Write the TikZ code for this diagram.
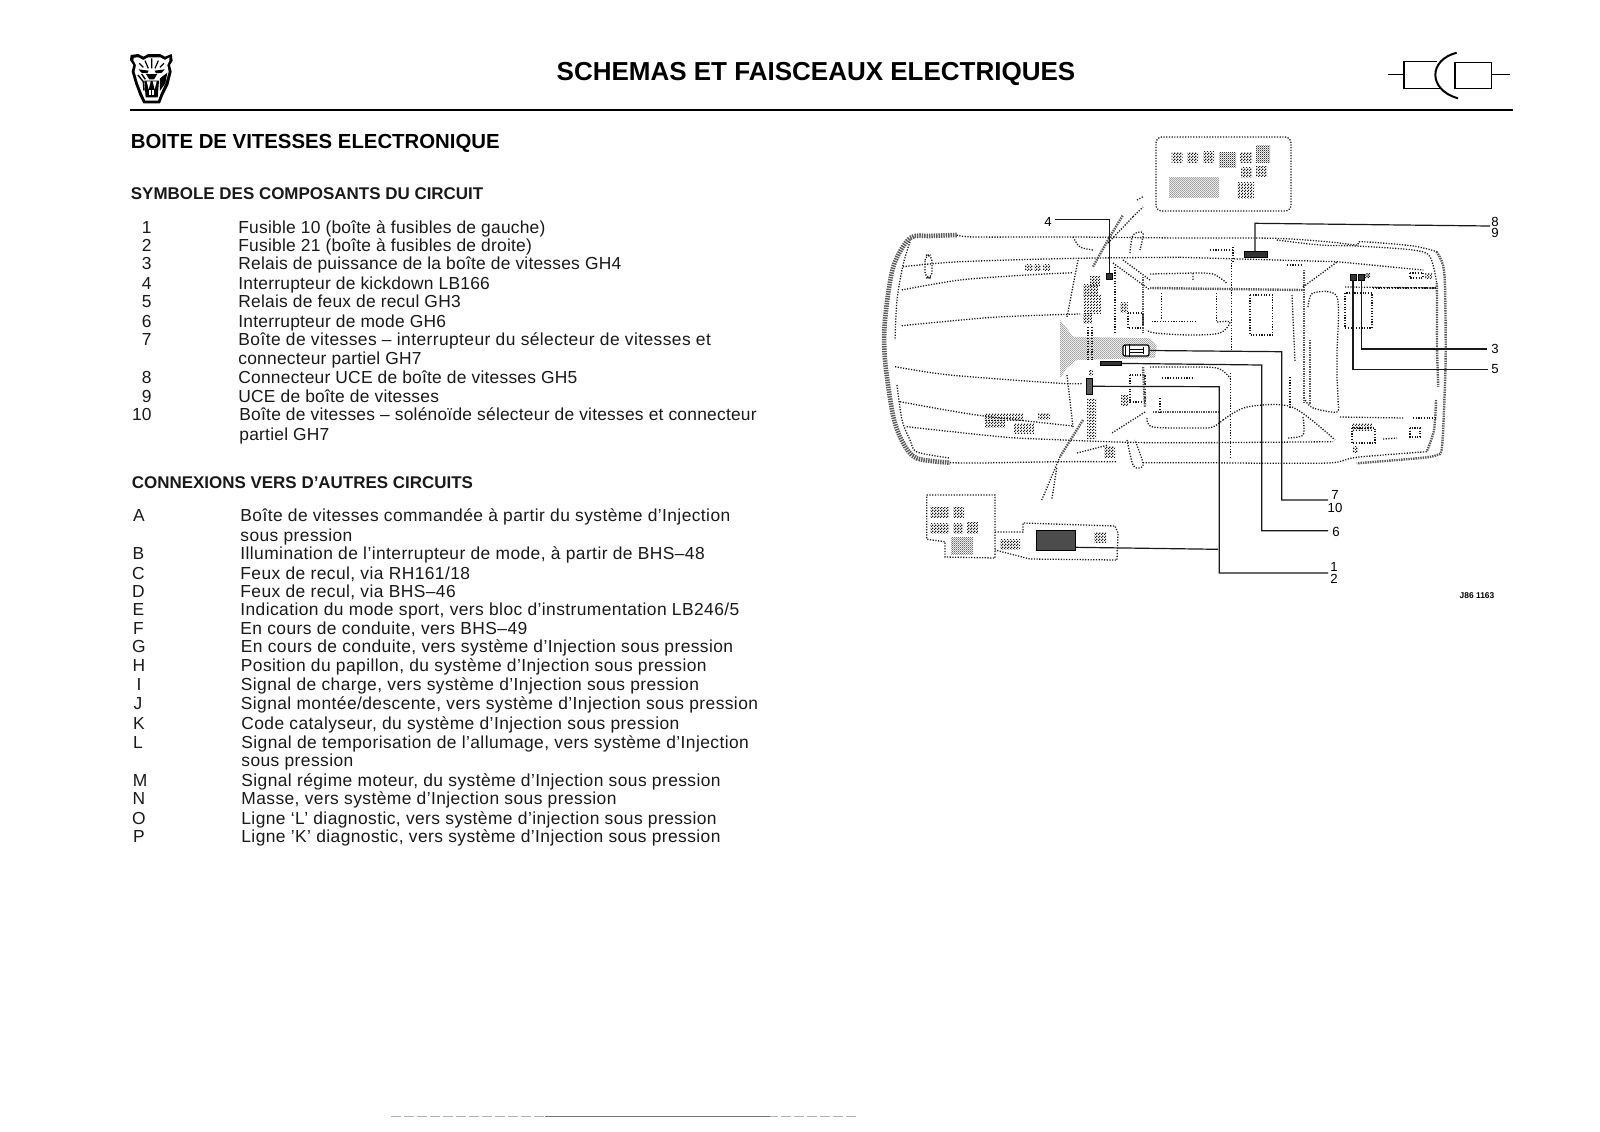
\documentclass[tikz,border=0pt]{standalone}
\usepackage{fontspec}
\setmainfont{Liberation Sans}
\usetikzlibrary{patterns}
\pgfdeclarepatternformonly{stip}{\pgfpointorigin}{\pgfqpoint{1.3pt}{1.3pt}}{\pgfqpoint{1.3pt}{1.3pt}}{%
  \pgfpathrectangle{\pgfqpoint{0pt}{0pt}}{\pgfqpoint{.62pt}{.62pt}}%
  \pgfpathrectangle{\pgfqpoint{.65pt}{.65pt}}{\pgfqpoint{.62pt}{.62pt}}%
  \pgfusepath{fill}}
\pgfdeclarepatternformonly{stiplight}{\pgfpointorigin}{\pgfqpoint{.9pt}{.9pt}}{\pgfqpoint{.9pt}{.9pt}}{%
  \pgfpathrectangle{\pgfqpoint{0pt}{0pt}}{\pgfqpoint{.4pt}{.4pt}}%
  \pgfpathrectangle{\pgfqpoint{.45pt}{.45pt}}{\pgfqpoint{.4pt}{.4pt}}%
  \pgfusepath{fill}}
\begin{document}
\begin{tikzpicture}[x=0.5pt,y=-0.5pt,
  bodyfont/.style={font=\fontsize{8.7}{10}\selectfont\addfontfeature{LetterSpace=1.3}},
  bodyfontb/.style={font=\fontsize{8.7}{10}\selectfont\addfontfeature{LetterSpace=2.4}},
  bodytxt/.style={inner sep=0pt,anchor=base west,yshift=-.3pt,bodyfont,text=black!90},
  bodytxtb/.style={inner sep=0pt,anchor=base west,yshift=-.3pt,bodyfontb,text=black!90},
  numtxt/.style={inner sep=0pt,anchor=base east,yshift=-.3pt,bodyfont,text=black!90},
  lettxt/.style={inner sep=0pt,anchor=base,yshift=-.3pt,bodyfont,text=black!90},
  headtxt/.style={inner sep=0pt,anchor=base west,font=\fontsize{8.48}{10}\bfseries\selectfont,text=black!90},
  calltxt/.style={inner sep=0pt,anchor=center,font=\fontsize{6.6}{7}\selectfont},
  fine/.style={draw=black!90,line width=.65pt,dash pattern=on .6pt off .75pt},
  dense/.style={draw=black!65,line width=2.3pt,dash pattern=on .7pt off .5pt},
  denser/.style={draw=black!65,line width=1.2pt,dash pattern=on .7pt off .5pt},
  mesh/.style={pattern=stip,pattern color=black!90,draw=none},
  light/.style={pattern=stiplight,pattern color=black!80,draw=none},
  callout/.style={draw=black!90,line width=.6pt},
  comp/.style={fill=black!80,draw=black,line width=.3pt,inner sep=0pt,minimum width=3pt,minimum height=3pt},
]
\useasboundingbox (0,0) rectangle (1600,1131);
\fill[white] (0,0) rectangle (1600,1131);

% ---------- header ----------
\begin{scope}[shift={(110,40)},x=1/6 pt,y=-1/6 pt]
  \fill (62,45)--(85,42)--(100,50)--(115,42)--(150,42)--(165,50)--(185,42)--(188,62)--(180,75)--(185,95)--(175,135)--(160,165)--(150,190)--(100,190)--(88,165)--(75,130)--(65,95)--(70,75)--(60,60)--cycle;
  \fill[white] (72,53)--(85,52)--(100,60)--(115,52)--(150,52)--(165,60)--(178,52)--(178,62)--(172,75)--(176,95)--(166,130)--(152,160)--(144,182)--(106,182)--(96,160)--(84,130)--(74,95)--(78,75)--(70,60)--cycle;
  \draw[line width=.6pt] (125,55)--(125,85) (105,62)--(115,85) (145,62)--(135,85) (88,70)--(100,82) (162,70)--(150,82);
  \fill (86,88)--(116,92)--(112,100)--(94,98)--cycle;
  \fill (164,88)--(134,92)--(138,100)--(156,98)--cycle;
  \fill (108,102)--(142,102)--(132,118)--(118,118)--cycle;
  \draw[line width=.7pt] (84,105)--(100,125)--(102,152) (95,102)--(106,118);
  \fill (150,115)--(172,98)--(166,130)--(150,152)--cycle;
  \fill (103,122)--(147,122)--(143,172)--(107,172)--cycle;
  \fill[white] (110,124)--(116,148)--(122,124)--cycle;
  \fill[white] (128,124)--(134,148)--(140,124)--cycle;
  \fill[white] (118,150)--(132,150)--(132,166)--(118,166)--cycle;
  \draw[line width=.5pt] (125,150)--(125,166);
\end{scope}
\node[inner sep=0pt,anchor=base,font=\fontsize{13}{16}\bfseries\selectfont] (title) at (816,80) {SCHEMAS ET FAISCEAUX ELECTRIQUES};
\draw[line width=1pt] (130,110) -- (1513,110);
\draw[line width=.7pt] (1388,74.3)--(1404,74.3);
\draw[line width=.7pt] (1437,61.7)--(1404,61.7)--(1404,88.3)--(1441,88.3);
\draw[line width=1pt] (1456.7,52.7) .. controls (1428,60) and (1428,90) .. (1458,98.3);
\draw[line width=.7pt] (1455,62.7) rectangle (1491.7,88.3);
\draw[line width=.7pt] (1491.7,74.3)--(1510,74.3);

% ---------- text ----------
\node[inner sep=0pt,anchor=base west,font=\fontsize{10.18}{12}\bfseries\selectfont] (h1) at (130.5,148.5) {BOITE DE VITESSES ELECTRONIQUE};
\node[headtxt] (h2) at (130.5,199) {SYMBOLE DES COMPOSANTS DU CIRCUIT};
\node[numtxt] (n1) at (152,232.5) {1};
\node[numtxt] (n2) at (152,250.9) {2};
\node[numtxt] (n3) at (152,269.3) {3};
\node[numtxt] (n4) at (152,288.7) {4};
\node[numtxt] (n5) at (152,307) {5};
\node[numtxt] (n6) at (152,326.4) {6};
\node[numtxt] (n7) at (152,344.8) {7};
\node[numtxt] (n8) at (152,382.5) {8};
\node[numtxt] (n9) at (152,401.9) {9};
\node[numtxt] (n10) at (152,420.3) {10};
\node[bodytxt] (t1) at (238,232.5) {Fusible 10 (boîte à fusibles de gauche)};
\node[bodytxt] (t2) at (238,250.9) {Fusible 21 (boîte à fusibles de droite)};
\node[bodytxt] (t3) at (238,269.3) {Relais de puissance de la boîte de vitesses GH4};
\node[bodytxt] (t4) at (238,288.7) {Interrupteur de kickdown LB166};
\node[bodytxt] (t5) at (238,307) {Relais de feux de recul GH3};
\node[bodytxt] (t6) at (238,326.4) {Interrupteur de mode GH6};
\node[bodytxtb] (t7) at (238,344.8) {Boîte de vitesses – interrupteur du sélecteur de vitesses et};
\node[bodytxt] (t7b) at (238,364.2) {connecteur partiel GH7};
\node[bodytxt] (t8) at (238,382.5) {Connecteur UCE de boîte de vitesses GH5};
\node[bodytxt] (t9) at (238,401.9) {UCE de boîte de vitesses};
\node[bodytxt] (t10) at (239,420.3) {Boîte de vitesses – solénoïde sélecteur de vitesses et connecteur};
\node[bodytxt] (t10b) at (239,439.7) {partiel GH7};

\node[headtxt] (h3) at (131.5,488.5) {CONNEXIONS VERS D’AUTRES CIRCUITS};
\node[lettxt] (la) at (139,521.3) {A};
\node[lettxt] (lb) at (138.5,559) {B};
\node[lettxt] (lc) at (138.5,578.4) {C};
\node[lettxt] (ld) at (138.5,596.8) {D};
\node[lettxt] (le) at (138.5,615.2) {E};
\node[lettxt] (lf) at (138.5,633.5) {F};
\node[lettxt] (lg) at (139,651.9) {G};
\node[lettxt] (lh) at (139,671.3) {H};
\node[lettxt] (li) at (139,689.7) {I};
\node[lettxt] (lj) at (138,709) {J};
\node[lettxt] (lk) at (139,728.4) {K};
\node[lettxt] (ll) at (138,747.8) {L};
\node[lettxt] (lm) at (140,785.6) {M};
\node[lettxt] (ln) at (139,804) {N};
\node[lettxt] (lo) at (139,823.4) {O};
\node[lettxt] (lp) at (139,841.7) {P};
\node[bodytxtb] (ta) at (240,521.3) {Boîte de vitesses commandée à partir du système d’Injection};
\node[bodytxtb] (tab) at (240,540.7) {sous pression};
\node[bodytxtb] (tb) at (240,559) {Illumination de l’interrupteur de mode, à partir de BHS–48};
\node[bodytxtb] (tc) at (240,578.4) {Feux de recul, via RH161/18};
\node[bodytxtb] (td) at (240,596.8) {Feux de recul, via BHS–46};
\node[bodytxtb] (te) at (240,615.2) {Indication du mode sport, vers bloc d’instrumentation LB246/5};
\node[bodytxtb] (tf) at (240,633.5) {En cours de conduite, vers BHS–49};
\node[bodytxtb] (tg) at (240.5,651.9) {En cours de conduite, vers système d’Injection sous pression};
\node[bodytxtb] (th) at (240.5,671.3) {Position du papillon, du système d’Injection sous pression};
\node[bodytxtb] (ti) at (240.5,689.7) {Signal de charge, vers système d’Injection sous pression};
\node[bodytxtb] (tj) at (240.5,709) {Signal montée/descente, vers système d’Injection sous pression};
\node[bodytxtb] (tk) at (241,728.4) {Code catalyseur, du système d’Injection sous pression};
\node[bodytxtb] (tl) at (241,747.8) {Signal de temporisation de l’allumage, vers système d’Injection};
\node[bodytxtb] (tlb) at (241,766.2) {sous pression};
\node[bodytxtb] (tm) at (241,785.6) {Signal régime moteur, du système d’Injection sous pression};
\node[bodytxtb] (tn) at (241,804) {Masse, vers système d’Injection sous pression};
\node[bodytxtb] (to) at (241,823.4) {Ligne ‘L’ diagnostic, vers système d’injection sous pression};
\node[bodytxtb] (tp) at (241,841.7) {Ligne ’K’ diagnostic, vers système d’Injection sous pression};

% ---------- gray wedge ----------
\fill[pattern=stiplight,pattern color=black!75] (1060,320)--(1073.3,336.7)--(1150,338.3)--(1156.7,345)--(1155,358)--(1076.7,360)--(1066.7,368)--(1060,378.3)--cycle;

% ---------- car body ----------
\draw[dense] plot[smooth] coordinates {(956.7,235) (930,236) (910,238) (893.3,266.7) (885,320) (885,360) (893.3,416.7) (903.3,443.3) (916.7,458.3) (950,462.7)};
\draw[denser] plot[smooth] coordinates {(1436.7,251.7) (1443,265) (1445,286.7) (1445.7,346.7) (1445,383.3) (1442,446.7) (1436.7,455) (1420,458) (1356.7,463.3)};
\draw[denser] plot[smooth] coordinates {(1436.7,283) (1437,300) (1437,346.7) (1438.3,386.7)};
\draw[denser] plot[smooth] coordinates {(1436,400) (1434,430) (1426.7,451.7)};
% long lines
\draw[fine] plot[smooth] coordinates {(956.7,235) (975,237) (1073,237) (1180,238) (1275,238.3) (1330,242) (1356.7,245) (1362,241.7) (1413.3,246) (1436.7,251.7)};
\draw[fine] plot[smooth] coordinates {(1276.7,240) (1320,245) (1356.7,246) (1413,250) (1430,256.7) (1436.7,283)};
\draw[fine] (1180,257.3) -- (1336.7,261.7);
\draw[fine] (1336.7,261.7) -- (1423.3,270);
\draw[fine] plot[smooth] coordinates {(903,266.7) (960,261.7) (1076.7,258.3) (1180,257.3)};
\draw[fine] plot[smooth] coordinates {(901.7,290) (960,280) (1026.7,275) (1073,272.7)};
\draw[fine] plot[smooth] coordinates {(901.7,325.7) (993,317.3) (1080,314)};
\draw[fine] plot[smooth] coordinates {(895,366.7) (950,375) (1060,383.3) (1083,383.3)};
\draw[fine] plot[smooth] coordinates {(900,401.7) (976.7,415) (1073,426)};
\draw[fine] plot[smooth] coordinates {(906.7,426.7) (1000,436.7) (1046.7,439.3) (1153,442.7) (1333,441.7)};
\draw[fine] plot[smooth] coordinates {(950,462.7) (980,463) (1060,461.7) (1116.7,461.7)};
\draw[fine] plot[smooth] coordinates {(1143,462.7) (1200,462.7) (1280,463.3) (1333,462.7) (1356.7,457.3) (1426.7,451.7)};
\draw[fine] plot[smooth] coordinates {(910,241.7) (903,265) (897,300) (895,340)};
\draw[fine] plot[smooth] coordinates {(897,385) (902,420) (910,440) (917,452) (950,458)};
\draw[fine,rounded corners=3pt] (925,255) rectangle (932,278);
% windshield / front parts
\draw[fine] plot[smooth] coordinates {(1073,237) (1080,247) (1093,250)};
\draw[fine] (1078,260) -- (1067,317);
\draw[fine] (1067,375) -- (1073,427);
\draw[fine] (1115,267) -- (1115,333);
\draw[fine] (1088,327) -- (1088,360);
\draw[fine] (1092,327) -- (1092,360);
\draw[fine] plot[smooth] coordinates {(1130,253) (1133,235) (1143,233) (1140,250)};
\draw[fine] plot[smooth] coordinates {(1127,440) (1133,465) (1140,468) (1143,463) (1135,440)};
\draw[fine] (1113,263) -- (1150,290);
\draw[fine] (1123,260) -- (1150,280);
\draw[fine] (1128,313) rectangle (1143,328);
\draw[denser] (1143,277) -- (1143,333);
\draw[fine] (1077,453) -- (1108,445);
\draw[fine] (1130,375) rectangle (1145,402);
\draw[denser] (1143,367) -- (1145,407);
\draw[fine] (1145,412) -- (1112,433);
\draw[fine] plot[smooth] coordinates {(1147,418) (1153,427) (1200,428) (1213,427) (1223,420)};
\draw[denser] (1153,412) -- (1220,412);
\draw[fine] (1162,378) -- (1193,378);
\draw[fine] (1160,398) -- (1160,413);
\draw[fine] plot[smooth] coordinates {(1150,367) (1180,367) (1217,368) (1230,378)};
% wipers / steering bands
\draw[denser] plot[smooth] coordinates {(1093,266.7) (1108,240) (1123,215)};
\draw[fine] (1108,243) -- (1133,216.7);
\draw[fine] (1133,216.7) -- (1143,207);
\draw[fine] (1137,200) -- (1143,196.7);
\draw[denser] (1083,420) -- (1060,456.7);
\draw[fine] (1060,456.7) -- (1041.7,500);
\draw[fine] (1056.7,468) -- (1051.7,500);
% interior
\draw[fine] (1150,274) -- (1193,273) -- (1193,280);
\draw[fine] plot[smooth] coordinates {(1193,273) (1213,274) (1226.7,283)};
\draw[denser] (1150,288) -- (1303,290);
\draw[fine] (1373,288) -- (1437,288);
\draw[fine] (1161.7,293) -- (1161.7,320);
\draw[fine] (1216.7,293) -- (1216.7,322);
\draw[fine] (1151.7,321.7) -- (1197,321.7);
\draw[fine] plot[smooth] coordinates {(1217,322) (1230,322) (1220,333) (1190,335) (1155,333) (1146.7,330)};
\draw[fine] (1231.7,260) -- (1231.7,350);
\draw[fine] (1230.7,373) -- (1230.7,457);
\draw[fine] (1250,295) rectangle (1272.7,335);
\draw[fine] (1292,295) -- (1295,362);
\draw[fine] (1290,377) -- (1290,407);
\draw[denser] (1304,270) -- (1304,404);
\draw[denser] (1310,340) -- (1310,404);
\draw[fine] plot[smooth] coordinates {(1308,307) (1313,293) (1337,297) (1337,353) (1337,377) (1338,400) (1336.7,412) (1313,408) (1305,400)};
\draw[fine] (1303,287) -- (1337,262);
\draw[fine] (1345,293) rectangle (1372,328);
\draw[fine] (1352,428) rectangle (1375,443);
\draw[fine] (1410,428) rectangle (1420,437);
\draw[fine] (1383,439) -- (1397,438);
\draw[fine] (1410,273) rectangle (1423,278);
\draw[fine] plot[smooth] coordinates {(1223,420) (1247,407) (1292,407) (1335,440)};
\draw[fine] (1340,417) -- (1403,418);
\draw[fine] (1413,418) -- (1437,418);
\draw[fine] plot[smooth] coordinates {(1303,417) (1303,435) (1287,438)};
\draw[fine] (1210,250) -- (1233,250);
\draw[fine] (1233,247) -- (1233,262);
\draw[fine] (1287,265) -- (1303,265);
\draw[fine] (1345,287) -- (1437,288);
% patches
\foreach \a/\b/\c/\d in {1025/264/1033/270,1034/264/1041/270,1043/264/1050/270,1090/276/1100/285,1083/284/1098/295,1083/295/1101/313,1083/313/1092/323,1120/302/1128/312,
  1171.7/152/1182.7/162.7,1187/152/1198/162,1203/151/1214/162,1240/152/1252/162,1241/167/1252/177,1256/166/1267/176,1237/182/1254/198,
  930/507/949/517,953/507/964/517,930/523/949/533,953/523/963/533,967/522/978/533,1000/539/1020/549,1094/532/1106/542,
  984/413/1023/420,985/420/1005/427,1038/413/1050/419,1014/423/1034/433,1087/398/1096/438,1089/370/1093/375,1121/395/1128/405,1104/446/1115/457,
  1425/273/1432/278,1352/423/1372/430,1353/446/1358/452,1365/273/1370/278}
  {\fill[mesh] (\a,\b) rectangle (\c,\d);}
\foreach \a/\b/\c/\d in {1219/152/1236/167,1256/145/1270/162,1169/177/1219/197,951/537/973/554}
  {\fill[light] (\a,\b) rectangle (\c,\d);}

% fuse boxes
\draw[fine] (1156,143) arc[start angle=180,end angle=270,radius=6] -- (1285,137) arc[start angle=270,end angle=360,radius=6] -- (1291,205) arc[start angle=0,end angle=90,radius=6] -- (1162,211) arc[start angle=90,end angle=180,radius=6] -- cycle;
\draw[fine] (926.7,495) -- (995,495) -- (995,558) -- (945,557) -- (945,541.7) -- (926.7,539.3) -- cycle;
\draw[fine] (995,532) -- (1023,532) -- (1023,523) -- (1115,526) -- (1118,533) -- (1117,560) -- (1030,559) -- (995,550);

% ---------- components ----------
\node[comp,minimum width=3pt,minimum height=3pt] (c4) at (1109.3,276) {};
\node[comp,minimum width=11.8pt,minimum height=3.3pt] (c8) at (1255.8,254.3) {};
\node[comp,minimum width=3pt,minimum height=3pt] (c3) at (1361.5,277) {};
\node[comp,minimum width=3pt,minimum height=3pt] (c5) at (1353,277) {};
\node[draw=black,line width=.6pt,fill=white,rounded corners=1pt,inner sep=0pt,minimum width=13pt,minimum height=5.5pt] (c7) at (1136,350.5) {};
\draw[line width=.4pt] (1125,345) -- (1125,356) (1129,344) -- (1129,357) (1129,349) -- (1143,349) (1129,352) -- (1143,352) (1143,347)--(1143,354);
\node[comp,minimum width=10.5pt,minimum height=1.7pt] (c6) at (1111.2,363.4) {};
\node[comp,fill=black!65,minimum width=3.2pt,minimum height=8pt] (c1) at (1089.2,386.3) {};
\node[comp,fill=black!70,minimum width=19.2pt,minimum height=10pt] (c2) at (1055.8,540.7) {};

% ---------- labels ----------
\node[calltxt] (l4) at (1048,221.7) {4};
\node[calltxt] (l8) at (1495,221.7) {8};
\node[calltxt] (l9) at (1495,232.7) {9};
\node[calltxt] (l3) at (1495,348.5) {3};
\node[calltxt] (l5) at (1495,369) {5};
\node[calltxt] (l7) at (1335,495) {7};
\node[calltxt] (l10) at (1335,507.7) {10};
\node[calltxt] (l6) at (1336,532) {6};
\node[calltxt] (l1) at (1334,567.3) {1};
\node[calltxt] (l2) at (1334,579.3) {2};
\node[inner sep=0pt,anchor=center,font=\fontsize{4.2}{5}\bfseries\selectfont] (ref) at (1477,595.7) {J86 1163};

% ---------- connectors ----------
\coordinate (k4) at (1055,219.3);
\coordinate (k8) at (1490,226);
\coordinate (k3) at (1487,349);
\coordinate (k5) at (1488,369.5);
\coordinate (k7) at (1328,500);
\coordinate (k6) at (1328,530.7);
\coordinate (k1) at (1328,573);
\draw[callout] (k4) -| (c4.north);
\draw[callout] (k8) -- (1255,223.3) -- (1255,251.5);
\draw[callout] (c3.south) |- (k3);
\draw[callout] (c5.south) |- (k5);
\draw[callout] (c7.east) -- (1281.7,351.7) -- (1281.7,500) -- (k7);
\draw[callout] (c6.east) -- (1261.7,365) -- (1261.7,530.7) -- (k6);
\draw[callout] (c1.east) -- (1219.3,386.7) -- (1219.3,573) -- (k1);
\draw[callout] (c2.east |- 0,547.3) -- (1218,549.3);

% faint scan trace
\draw[black!30,line width=.35pt,dash pattern=on 5pt off 1.5pt] (391,1116) -- (857,1116);
\draw[black!55,line width=.4pt] (545,1116) -- (770,1116);
\end{tikzpicture}
\end{document}
